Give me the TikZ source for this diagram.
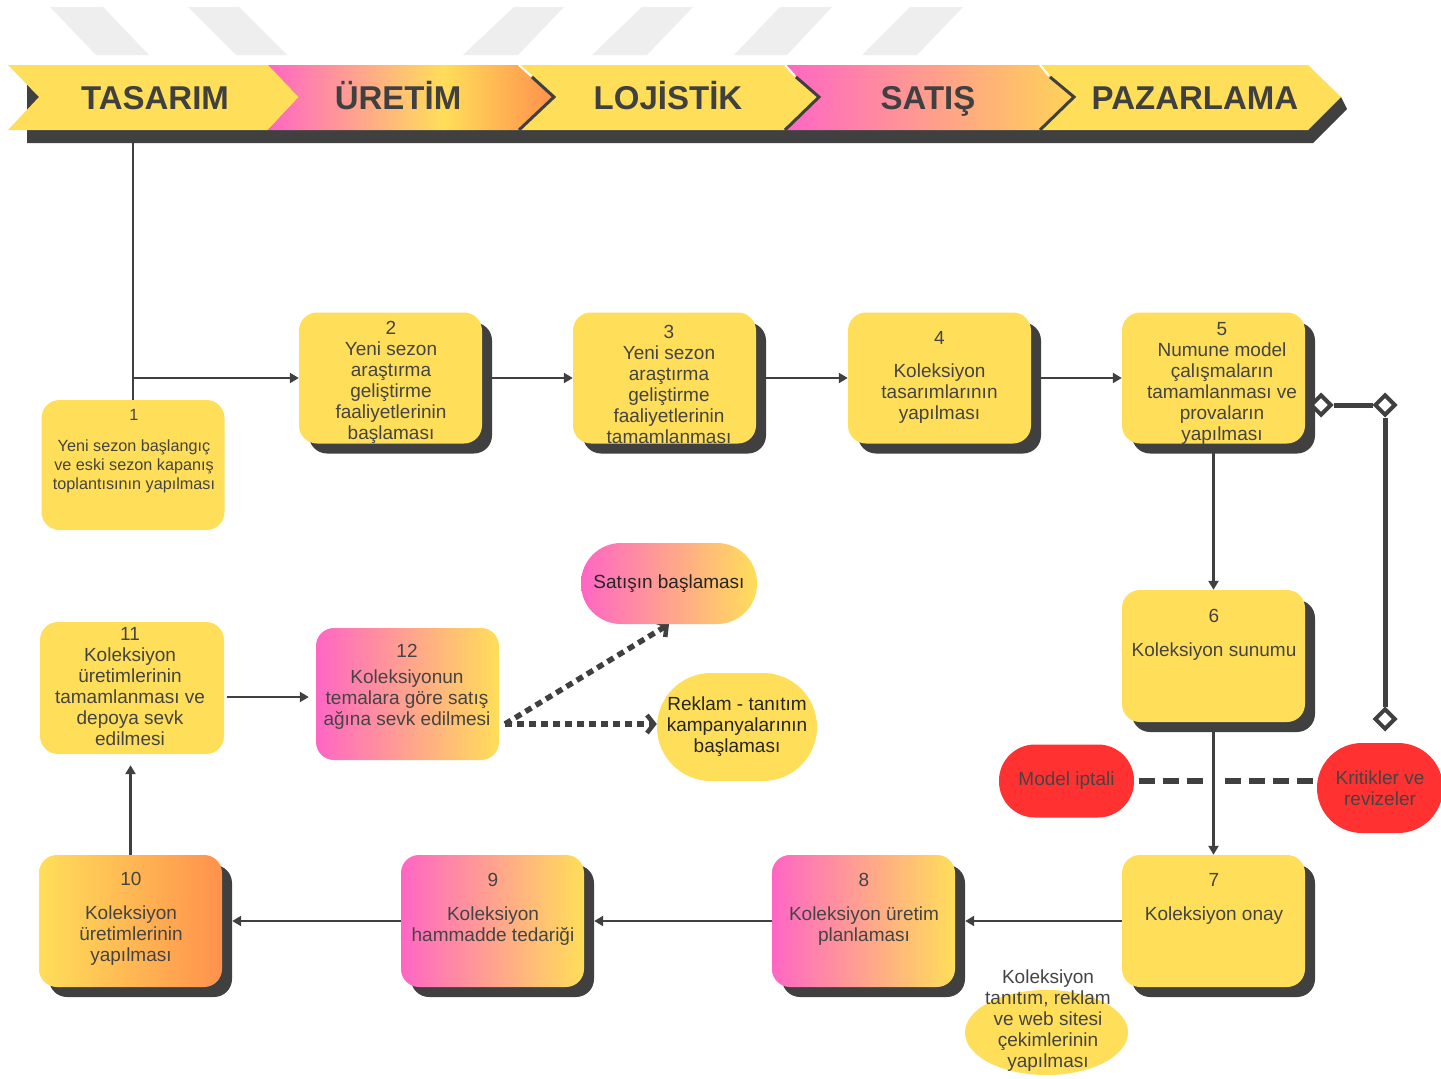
\documentclass[tikz,border=0pt]{standalone}
\usepackage{fontspec}
\setmainfont{Liberation Sans}
\usetikzlibrary{arrows.meta,shapes.geometric,shadows,backgrounds}
\definecolor{yel}{HTML}{FFDE59}
\definecolor{pnk}{HTML}{FF66C4}
\definecolor{org}{HTML}{FF914D}
\definecolor{shd}{HTML}{404040}
\definecolor{txt}{HTML}{444444}
\definecolor{redc}{HTML}{FF3131}
\definecolor{stripe}{HTML}{EEEEEE}
\newcommand\boxfont{\fontsize{19}{21}\selectfont}
\newcommand\smallboxfont{\fontsize{16.2}{19}\selectfont}
\newcommand\bannerfont{\bfseries\fontsize{33}{36}\selectfont}
\begin{document}
\begin{tikzpicture}[x=1pt,y=-1pt,
  box/.style={rectangle, rounded corners=18pt, minimum width=183pt, minimum height=131pt, inner sep=0pt},
  yb/.style={box, fill=yel},
  pyb/.style={box, left color=pnk, right color=yel},
  yob/.style={box, left color=yel, right color=org},
  sh/.style={drop shadow={shadow xshift=10pt, shadow yshift=-10pt, fill=shd, opacity=1}},
  lbl/.style={align=center, text=txt, font=\boxfont, inner sep=0pt},
  slbl/.style={align=center, text=txt, font=\smallboxfont, inner sep=0pt},
  btxt/.style={text=shd, font=\bannerfont, inner sep=0pt, anchor=base},
  wire/.style={draw=shd, line width=2.3pt},
  conn/.style={wire, -{Triangle[length=9pt,width=10pt]}},
  dotconn/.style={draw=shd, line width=5.5pt, dash pattern=on 7pt off 5pt,
     -{Straight Barb[length=7pt,width=18pt,line width=4.5pt]}},
  dsh/.style={draw=shd, line width=6pt, dash pattern=on 16pt off 8pt},
  dmd/.style={diamond, draw=shd, fill=white, line width=4pt, minimum width=21pt, minimum height=21pt, inner sep=0pt},
  pill/.style={rectangle, inner sep=0pt, align=center}
]
\useasboundingbox (0,0) rectangle (1441,1079);

% stripes
\fill[stripe] (50,7) -- (103,7) -- (149,55) -- (96,55) -- cycle;
\fill[stripe] (188,7) -- (239,7) -- (287,55) -- (236,55) -- cycle;
\fill[stripe] (514,7) -- (564,7) -- (518,55) -- (463,55) -- cycle;
\fill[stripe] (642,7) -- (693,7) -- (647,55) -- (592,55) -- cycle;
\fill[stripe] (780,7) -- (832,7) -- (787,55) -- (734,55) -- cycle;
\fill[stripe] (910,7) -- (963,7) -- (917,55) -- (862,55) -- cycle;

% banner shadow
\fill[shd] (27,80) -- (1300,80) -- (1341,97) -- (1347,109) -- (1313,143) -- (27,143) -- cycle;
% banner segments
\fill[yel] (8,65) -- (268,65) -- (299,97) -- (268,130) -- (8,130) -- (39,97) -- cycle;
\path[left color=pnk, right color=yel] (268,65) -- (443.5,65) -- (443.5,130) -- (268,130) -- (299,97) -- cycle;
\path[left color=yel, right color=org] (443,65) -- (518,65) -- (553,97) -- (518,130) -- (443,130) -- cycle;
\fill[yel] (518,65) -- (784,65) -- (818,97) -- (784,130) -- (518,130) -- (553,97) -- cycle;
\path[left color=pnk, right color=yel!85!org] (784,65) -- (1039,65) -- (1073,97) -- (1039,130) -- (784,130) -- (818,97) -- cycle;
\fill[yel] (1039,65) -- (1308,65) -- (1341,97) -- (1308,130) -- (1039,130) -- (1073,97) -- cycle;
\draw[shd, line width=3pt] (532,77) -- (554,97) -- (519,130);
\draw[shd, line width=3pt] (796,77) -- (819,97) -- (785,130);
\draw[shd, line width=3pt] (1050,77) -- (1074,97) -- (1040,130);
\draw[white, line width=2pt] (519,65) -- (531,76);
\draw[white, line width=2pt] (785,65) -- (795,76);
\draw[white, line width=2pt] (1040,65) -- (1049,76);
\node[btxt] (hTas) at (155,109) {TASARIM};
\node[btxt] (hUre) at (398,109) {ÜRETİM};
\node[btxt] (hLoj) at (668,109) {LOJİSTİK};
\node[btxt] (hSat) at (928,109) {SATIŞ};
\node[btxt] (hPaz) at (1195,109) {PAZARLAMA};

% boxes
\node[yb, minimum height=130pt] (b1) at (133,465) {};
\node[yb, sh] (b2) at (390.5,378) {};
\node[yb, sh] (b3) at (664.5,378) {};
\node[yb, sh] (b4) at (939.5,378) {};
\node[yb, sh] (b5) at (1213.5,378) {};
\node[yb, sh, minimum height=132pt] (b6) at (1213.5,656) {};
\node[yb, sh, minimum height=132pt] (b7) at (1213.5,921) {};
\node[pyb, sh, minimum height=132pt] (b8) at (863.5,921) {};
\node[pyb, sh, minimum height=132pt] (b9) at (492.5,921) {};
\node[yob, sh, minimum height=132pt] (b10) at (130.5,921) {};
\node[yb, minimum width=184pt, minimum height=132pt] (b11) at (132,688) {};
\node[pyb, minimum height=132pt] (b12) at (407.5,694) {};

% box texts
\node[slbl] (t1) at (134,451) {1\\[12pt]Yeni sezon başlangıç\\ve eski sezon kapanış\\toplantısının yapılması};
\node[lbl] (t2) at (391,382) {2\\Yeni sezon\\araştırma\\geliştirme\\faaliyetlerinin\\başlaması};
\node[lbl] (t3) at (669,384) {3\\Yeni sezon\\araştırma\\geliştirme\\faaliyetlerinin\\tamamlanması};
\node[lbl] (t4) at (939.5,377) {4\\[12pt]Koleksiyon\\tasarımlarının\\yapılması};
\node[lbl] (t5) at (1222,383) {5\\Numune model\\çalışmaların\\tamamlanması ve\\provaların\\yapılması};
\node[lbl] (t6) at (1214,635) {6\\[13pt]Koleksiyon sunumu};
\node[lbl] (t7) at (1214,899) {7\\[13pt]Koleksiyon onay};
\node[lbl] (t8) at (864,909) {8\\[13pt]Koleksiyon üretim\\planlaması};
\node[lbl] (t9) at (493,909) {9\\[13pt]Koleksiyon\\hammadde tedariği};
\node[lbl] (t10) at (131,919) {10\\[13pt]Koleksiyon\\üretimlerinin\\yapılması};
\node[lbl] (t11) at (130,687) {11\\Koleksiyon\\üretimlerinin\\tamamlanması ve\\depoya sevk\\edilmesi};
\node[lbl] (t12) at (407,687) {12\\[5pt]Koleksiyonun\\temalara göre satış\\ağına sevk edilmesi};

% ovals
\node[pill, left color=pnk, right color=yel, minimum width=176pt, minimum height=81pt, rounded corners=40pt, text=black!85, font=\boxfont] (sat) at (669,583.5) {Satışın başlaması};
\node[pill, fill=yel, minimum width=160pt, minimum height=108pt, rounded corners=54pt, text=black!85, font=\boxfont] (rek) at (737,727) {Reklam - tanıtım\\kampanyalarının\\başlaması};
\node[pill, fill=redc, minimum width=135pt, minimum height=73pt, rounded corners=36pt, text=txt, font=\boxfont] (mi) at (1066.5,781) {Model iptali};
\node[pill, fill=redc, minimum width=126pt, minimum height=90pt, rounded corners=45pt, text=txt, font=\boxfont] (kr) at (1380,788) {Kritikler ve\\revizeler};
\node[ellipse, fill=yel, minimum width=163pt, minimum height=85pt, inner sep=0pt] (ell) at (1046.5,1032.5) {};
\node[lbl] (tell) at (1048,1021) {Koleksiyon\\tanıtım, reklam\\ve web sitesi\\çekimlerinin\\yapılması};

% diamonds
\node[dmd] (dm1) at (1321,405) {};
\node[dmd] (dm2) at (1385,405) {};
\node[dmd] (dm3) at (1385,719) {};

\coordinate (top1) at (133,143);
\coordinate (j1) at (133,378);
\coordinate (j11) at (0,697);
\coordinate (d0) at (505,724);
\coordinate (dA) at (1204,781);
\coordinate (dB) at (1225,781);

\begin{pgfonlayer}{background}
\fill[white] (0,0) rectangle (1441,1079);
\draw[wire, line width=2pt] (top1) -- (b1.north);
\draw[conn] (j1) -- (b2.west);
\draw[conn] (b2.east) -- (b3.west);
\draw[conn] (b3.east) -- (b4.west);
\draw[conn] (b4.east) -- (b5.west);
\draw[conn] (b5.south) -- (b6.north);
\draw[conn] (b6.south) -- (b7.north);
\draw[conn] (b7.west) -- ([xshift=10pt]b8.east);
\draw[conn] (b8.west) -- ([xshift=10pt]b9.east);
\draw[conn] (b9.west) -- ([xshift=10pt]b10.east);
\draw[conn, shorten >=11pt] (b10.north) -- (b10.north |- b11.south);
\draw[conn, shorten <=3pt, shorten >=7pt] (b11.east |- j11) -- (b12.west |- j11);
\draw[dotconn] (d0) -- (sat.south);
\draw[dotconn] (d0) -- (d0 -| rek.west);
\draw[draw=shd, line width=5pt] (dm1) -- (dm2) -- (dm3);
\draw[dsh] ([xshift=5pt]mi.east) -- (dA);
\draw[dsh] (dB) -- (dB -| kr.west);
\end{pgfonlayer}
\end{tikzpicture}
\end{document}
